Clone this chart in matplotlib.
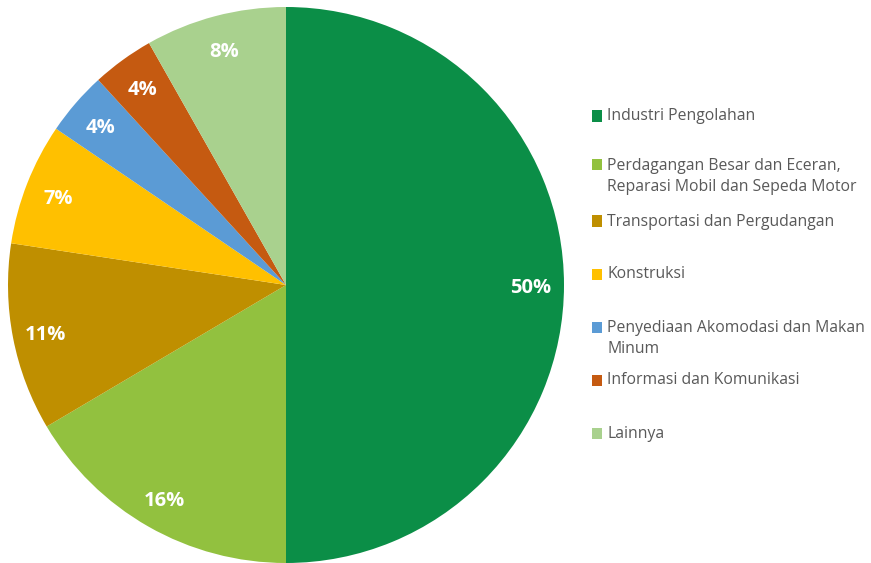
import matplotlib
matplotlib.use("Agg")
import matplotlib.pyplot as plt
from matplotlib.patches import Rectangle

categories = [
    "Industri Pengolahan",
    "Perdagangan Besar dan Eceran,\nReparasi Mobil dan Sepeda Motor",
    "Transportasi dan Pergudangan",
    "Konstruksi",
    "Penyediaan Akomodasi dan Makan\nMinum",
    "Informasi dan Komunikasi",
    "Lainnya",
]
shares = [50.0, 16.5, 10.9, 7.1, 3.7, 3.6, 8.2]
colors = ["#0B8E47", "#92C13F", "#BF8F00", "#FFC000", "#5B9BD5", "#C55A11", "#A9D18E"]

W, H = 871, 563
fig = plt.figure(figsize=(W / 100, H / 100), dpi=100)
fig.patch.set_facecolor("white")

# pie axes: centre (286,285) px, radius 278 px
cx, cy, r = 286, 285, 278
ax = fig.add_axes([(cx - r) / W, (H - cy - r) / H, 2 * r / W, 2 * r / H])

wedges, texts, autotexts = ax.pie(
    shares, colors=colors, startangle=90, counterclock=False, radius=1.0,
    autopct=lambda p: f"{p:.0f}%", pctdistance=0.88,
    wedgeprops=dict(linewidth=0),
    textprops=dict(color="white", fontsize=14.5, fontweight="bold", family="Open Sans"),
)
for t in autotexts:
    x, y = t.get_position()
    t.set_position((x, y - 0.012))
ax.set_xlim(-1, 1)
ax.set_ylim(-1, 1)
ax.set_aspect("auto")
ax.axis("off")

# legend drawn manually to match irregular spacing
legend_y = [116, 165, 221, 274, 327, 380, 433]
for lab, col, y in zip(categories, colors, legend_y):
    fig.patches.append(Rectangle((592 / W, 1 - (y + 5.5) / H), 10 / W, 11 / H,
                                 transform=fig.transFigure, facecolor=col, edgecolor="none"))
    fig.text(607 / W, 1 - (y - 7.5) / H, lab, ha="left", va="top", fontsize=11.3,
             color="#595959", family="Open Sans", linespacing=1.48)

fig.savefig("out.png", dpi=100, facecolor="white")
